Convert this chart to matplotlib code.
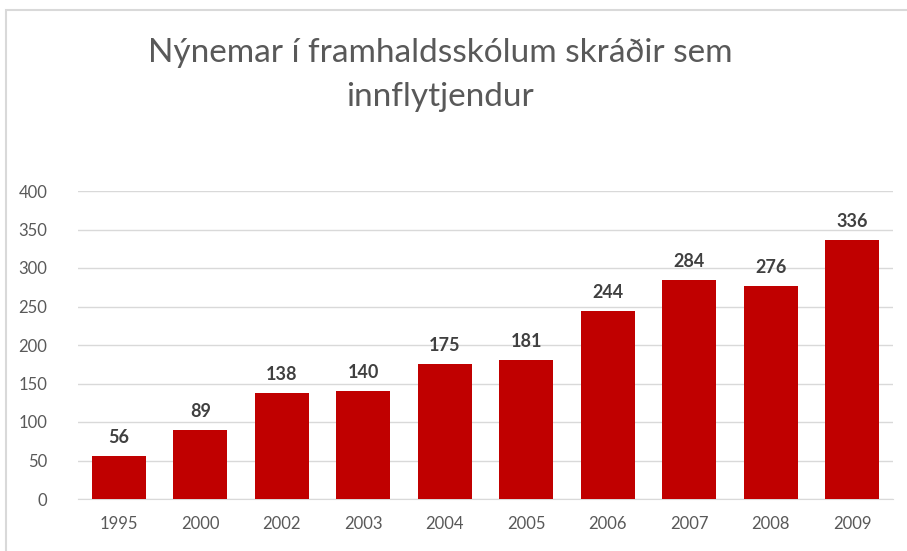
import matplotlib
matplotlib.use("Agg")
import matplotlib.pyplot as plt
from matplotlib.patches import Rectangle

years = ["1995", "2000", "2002", "2003", "2004", "2005", "2006", "2007", "2008", "2009"]
values = [56, 89, 138, 140, 175, 181, 244, 284, 276, 336]
title = "Nýnemar í framhaldsskólum skráðir sem\ninnflytjendur"

plt.rcParams['font.family'] = ['Lato', 'DejaVu Sans']

W, H = 907, 551
fig = plt.figure(figsize=(W/100, H/100), dpi=100)
ax = fig.add_axes([78/W, 1-499/H, (893-78)/W, (499-191)/H])

x = list(range(len(years)))
bars = ax.bar(x, values, width=0.66, color="#C00000", zorder=3)
for xi, v in zip(x, values):
    ax.text(xi, v + 13, str(v), ha="center", va="bottom", fontsize=13,
            fontweight="bold", color="#404040")

ax.set_xlim(-0.5, len(years) - 0.5)
ax.set_ylim(0, 400)
ax.set_yticks(range(0, 401, 50))
ax.set_xticks(x)
ax.set_xticklabels(years)
ax.tick_params(axis="both", length=0, labelsize=12, labelcolor="#595959")
ax.tick_params(axis="y", pad=22)
ax.tick_params(axis="x", pad=12)
ax.grid(axis="y", color="#d9d9d9", linewidth=1, zorder=0)
for s in ["top", "right", "left"]:
    ax.spines[s].set_visible(False)
ax.spines["bottom"].set_color("#d9d9d9")

fig.text(440/W, 1-75/H, title, ha="center", va="center", fontsize=24,
         color="#595959", linespacing=1.55)

fig.patches.append(Rectangle((6/W, -0.1), 1.2, 1 - 10/H + 0.1, transform=fig.transFigure,
                             fill=False, edgecolor="#d9d9d9", linewidth=1.5))

fig.savefig("out.png", dpi=100)
